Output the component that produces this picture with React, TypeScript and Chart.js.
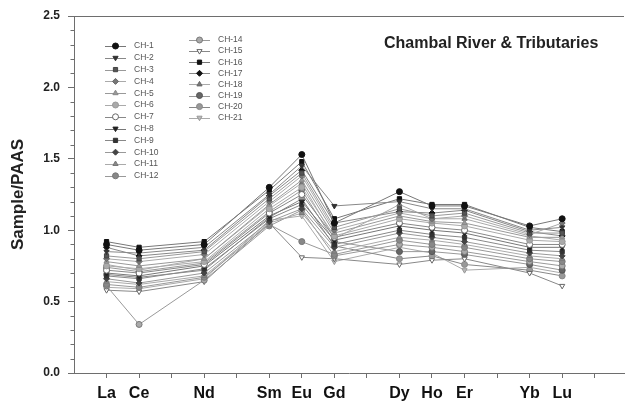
import React, { useEffect, useRef } from 'react';
import { Chart, registerables } from 'chart.js';
import { drawPoint } from 'chart.js/helpers';

Chart.register(...registerables);

// ---- data ----
const elements = ['La', 'Ce', 'Nd', 'Sm', 'Eu', 'Gd', 'Dy', 'Ho', 'Er', 'Yb', 'Lu'];
const atomicNumbers = [57, 58, 60, 62, 63, 64, 66, 67, 68, 70, 71];
const yTickValues = [0, 0.5, 1.0, 1.5, 2.0, 2.5];
const TITLE = 'Chambal River & Tributaries';
const Y_TITLE = 'Sample/PAAS';

const CH1 = [0.90, 0.86, 0.90, 1.30, 1.53, 1.05, 1.27, 1.17, 1.17, 1.03, 1.08];
const CH2 = [0.85, 0.84, 0.88, 1.25, 1.45, 1.17, 1.20, 1.15, 1.15, 1.00, 1.02];
const CH3 = [0.82, 0.80, 0.85, 1.22, 1.40, 1.02, 1.15, 1.10, 1.12, 0.98, 0.98];
const CH4 = [0.80, 0.78, 0.83, 1.20, 1.38, 1.00, 1.12, 1.08, 1.10, 0.97, 1.05];
const CH5 = [0.78, 0.75, 0.80, 1.18, 1.35, 0.98, 1.10, 1.06, 1.05, 0.95, 0.95];
const CH6 = [0.75, 0.73, 0.78, 1.15, 1.30, 0.96, 1.08, 1.05, 1.03, 0.93, 0.92];
const CH7 = [0.72, 0.70, 0.76, 1.12, 1.25, 0.95, 1.05, 1.02, 1.00, 0.90, 0.90];
const CH8 = [0.70, 0.68, 0.75, 1.10, 1.20, 0.93, 1.03, 1.00, 0.98, 0.88, 0.88];
const CH9 = [0.68, 0.66, 0.73, 1.08, 1.18, 0.90, 1.00, 0.97, 0.95, 0.86, 0.85];
const CH10 = [0.66, 0.63, 0.70, 1.06, 1.15, 0.88, 0.98, 0.95, 0.92, 0.84, 0.82];
const CH11 = [0.64, 0.62, 0.68, 1.05, 1.12, 0.85, 0.95, 0.93, 0.90, 0.82, 0.80];
const CH12 = [0.62, 0.60, 0.67, 1.04, 0.92, 0.83, 0.93, 0.90, 0.88, 0.80, 0.78];
const CH14 = [0.61, 0.34, 0.65, 1.03, 1.14, 0.82, 0.90, 0.88, 0.85, 0.78, 0.75];
const CH15 = [0.58, 0.57, 0.64, 1.05, 0.81, 0.80, 0.76, 0.79, 0.80, 0.70, 0.61];
const CH16 = [0.92, 0.88, 0.92, 1.28, 1.48, 1.08, 1.22, 1.18, 1.18, 1.02, 0.99];
const CH17 = [0.88, 0.82, 0.86, 1.24, 1.42, 1.05, 1.13, 1.12, 1.14, 0.99, 0.96];
const CH18 = [0.76, 0.72, 0.80, 1.17, 1.33, 0.94, 1.18, 1.08, 1.08, 0.96, 0.93];
const CH19 = [0.74, 0.71, 0.77, 1.13, 1.28, 0.92, 0.85, 0.85, 0.83, 0.76, 0.72];
const CH20 = [0.69, 0.67, 0.72, 1.09, 1.22, 0.89, 0.80, 0.82, 0.76, 0.72, 0.68];
const CH21 = [0.60, 0.59, 0.66, 1.07, 1.10, 0.78, 0.88, 0.84, 0.72, 0.74, 0.70];

const seriesNames = ['CH-1', 'CH-2', 'CH-3', 'CH-4', 'CH-5', 'CH-6', 'CH-7', 'CH-8', 'CH-9', 'CH-10', 'CH-11', 'CH-12',
  'CH-14', 'CH-15', 'CH-16', 'CH-17', 'CH-18', 'CH-19', 'CH-20', 'CH-21'];
const seriesValues = [CH1, CH2, CH3, CH4, CH5, CH6, CH7, CH8, CH9, CH10, CH11, CH12,
  CH14, CH15, CH16, CH17, CH18, CH19, CH20, CH21];

// ---- styles ----
const AXIS = '#6e6e6e';
const markerStyles = [
  { s: 'circle', r: 0, f: '#111', b: '#111' },
  { s: 'triangle', r: 180, f: '#333', b: '#333' },
  { s: 'rect', r: 0, f: '#555', b: '#444' },
  { s: 'rectRot', r: 0, f: '#777', b: '#666' },
  { s: 'triangle', r: 0, f: '#999', b: '#888' },
  { s: 'circle', r: 0, f: '#aaa', b: '#999' },
  { s: 'circle', r: 0, f: '#fff', b: '#666' },
  { s: 'triangle', r: 180, f: '#222', b: '#222' },
  { s: 'rect', r: 0, f: '#333', b: '#333' },
  { s: 'rectRot', r: 0, f: '#444', b: '#444' },
  { s: 'triangle', r: 0, f: '#888', b: '#777' },
  { s: 'circle', r: 0, f: '#888', b: '#777' },
  { s: 'circle', r: 0, f: '#aaa', b: '#777' },
  { s: 'triangle', r: 180, f: '#fff', b: '#666' },
  { s: 'rect', r: 0, f: '#111', b: '#111' },
  { s: 'rectRot', r: 0, f: '#111', b: '#111' },
  { s: 'triangle', r: 0, f: '#777', b: '#666' },
  { s: 'circle', r: 0, f: '#666', b: '#555' },
  { s: 'circle', r: 0, f: '#999', b: '#888' },
  { s: 'triangle', r: 180, f: '#bbb', b: '#999' },
];
const lineColors = ['#777', '#888', '#999', '#aaa', '#999', '#aaa', '#888', '#777', '#888', '#999',
  '#aaa', '#999', '#999', '#888', '#777', '#888', '#aaa', '#999', '#888', '#aaa'];

const decorPlugin = {
  id: 'decor',
  afterDraw(chart: any) {
    const { ctx, chartArea, scales } = chart;
    const y = scales.y;
    ctx.save();
    ctx.strokeStyle = AXIS;
    ctx.lineWidth = 1;
    // minor y ticks
    for (let i = 1; i < 25; i++) {
      if (i % 5 === 0) continue;
      const py = Math.round(y.getPixelForValue(i / 10)) + 0.5;
      ctx.beginPath();
      ctx.moveTo(chartArea.left - 3.5, py);
      ctx.lineTo(chartArea.left, py);
      ctx.stroke();
    }
    // top frame
    ctx.beginPath();
    ctx.moveTo(chartArea.left, chartArea.top + 0.5);
    ctx.lineTo(chartArea.right, chartArea.top + 0.5);
    ctx.stroke();

    // title
    ctx.font = 'bold 16px "Liberation Sans", Arial, sans-serif';
    ctx.fillStyle = '#222';
    ctx.textAlign = 'left';
    ctx.textBaseline = 'middle';
    ctx.fillText(TITLE, 384, 44);

    // legend
    ctx.font = '8.5px "Liberation Sans", Arial, sans-serif';
    chart.data.datasets.forEach((ds: any, i: number) => {
      const col = i < 12 ? 0 : 1;
      const row = i < 12 ? i : i - 12;
      const lx = col === 0 ? 105 : 189;
      const cy = col === 0 ? 46 + row * 11.8 : 40 + row * 11.1;
      ctx.strokeStyle = ds.borderColor;
      ctx.lineWidth = 1;
      ctx.beginPath();
      ctx.moveTo(lx, Math.round(cy) + 0.5);
      ctx.lineTo(lx + 21, Math.round(cy) + 0.5);
      ctx.stroke();
      ctx.fillStyle = ds.pointBackgroundColor;
      ctx.strokeStyle = ds.pointBorderColor;
      drawPoint(ctx, { pointStyle: ds.pointStyle, rotation: ds.pointRotation, radius: 3, borderWidth: 1 }, lx + 10.5, cy);
      ctx.fillStyle = '#555';
      ctx.fillText(ds.label, lx + 29, cy);
    });
    ctx.restore();
  },
};

export default function App() {
  const ref = useRef<HTMLCanvasElement>(null);
  useEffect(() => {
    if (!ref.current) return;
    const datasets = seriesNames.map((name, i) => ({
      label: name,
      data: seriesValues[i].map((v, j) => ({ x: atomicNumbers[j], y: v })),
      borderColor: lineColors[i],
      borderWidth: 1,
      pointStyle: markerStyles[i].s,
      pointRotation: markerStyles[i].r,
      pointBackgroundColor: markerStyles[i].f,
      pointBorderColor: markerStyles[i].b,
      pointBorderWidth: 1,
      pointRadius: 3,
      tension: 0,
    }));
    const chart = new Chart(ref.current, {
      type: 'line',
      data: { datasets },
      options: {
        animation: false,
        responsive: true,
        maintainAspectRatio: false,
        layout: { padding: { top: 16, right: 0, left: 0, bottom: 0 } },
        plugins: { legend: { display: false }, tooltip: { enabled: false }, title: { display: false } },
        scales: {
          x: {
            type: 'linear',
            min: 56,
            max: 72.9,
            afterBuildTicks: (s: any) => {
              const t = [];
              for (let n = 57; n <= 72; n++) t.push({ value: n });
              s.ticks = t;
            },
            afterFit: (s: any) => { s.height = 38; },
            ticks: {
              autoSkip: false,
              maxRotation: 0,
              padding: 6,
              color: '#111',
              font: { family: '"Liberation Sans", Arial, sans-serif', size: 16, weight: 'bold' },
              callback: (v: any) => {
                const k = atomicNumbers.indexOf(Math.round(v));
                return k >= 0 ? elements[k] : '';
              },
            },
            grid: { drawOnChartArea: false, tickLength: 5, color: AXIS },
            border: { color: AXIS },
          },
          y: {
            type: 'linear',
            min: 0,
            max: 2.5,
            afterBuildTicks: (s: any) => { s.ticks = yTickValues.map((v) => ({ value: v })); },
            afterFit: (s: any) => { s.width = 74; },
            ticks: {
              padding: 8,
              color: '#222',
              font: { family: '"Liberation Sans", Arial, sans-serif', size: 12, weight: 'bold' },
              callback: (v: any) => Number(v).toFixed(1),
            },
            title: {
              display: true,
              text: Y_TITLE,
              color: '#222',
              padding: { top: 8, bottom: 0 },
              font: { family: '"Liberation Sans", Arial, sans-serif', size: 17, weight: 'bold' },
            },
            grid: { drawOnChartArea: false, tickLength: 6, color: AXIS },
            border: { color: AXIS },
          },
        },
      },
      plugins: [decorPlugin],
    });
    return () => chart.destroy();
  }, []);
  return (
    <div style={{ position: 'absolute', left: 0, top: 0, width: 629, height: 411, background: '#fff' }}>
      <canvas ref={ref} />
    </div>
  );
}
